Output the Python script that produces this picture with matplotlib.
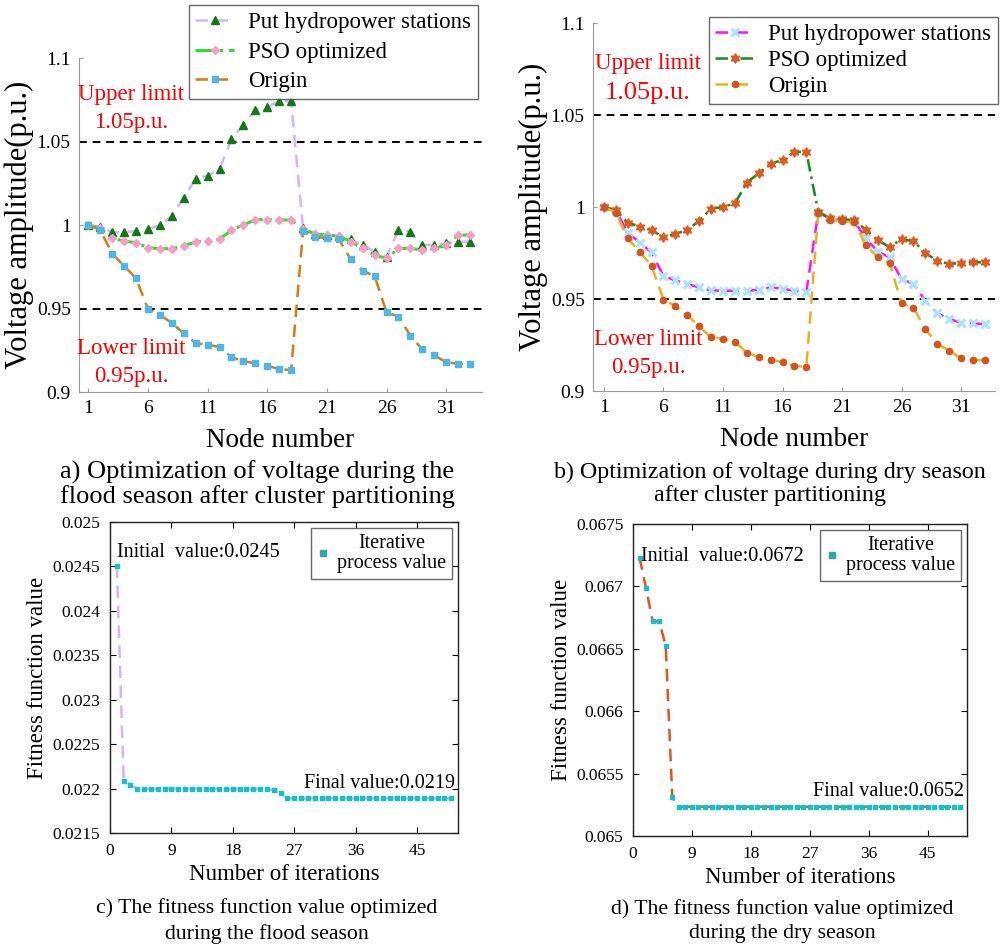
import numpy as np
import matplotlib
matplotlib.use("Agg")
from matplotlib import pyplot as plt
from matplotlib.lines import Line2D

plt.rcParams['font.family'] = ['Liberation Serif', 'DejaVu Serif']

# ---- data ----
nodes = np.arange(1, 34)

# IEEE 33 bus base case (Origin)
v_origin = [1.0000, 0.9970, 0.9829, 0.9755, 0.9681, 0.9497, 0.9462, 0.9413, 0.9351, 0.9292,
            0.9284, 0.9269, 0.9208, 0.9185, 0.9171, 0.9157, 0.9137, 0.9131, 0.9965, 0.9929,
            0.9922, 0.9916, 0.9794, 0.9727, 0.9694, 0.9477, 0.9452, 0.9337, 0.9255, 0.9220,
            0.9178, 0.9169, 0.9166]

# flood season
flood_hydro = [1.000, 0.999, 0.9956, 0.9956, 0.9964, 0.9974, 1.000, 1.0054, 1.0164, 1.0276,
               1.0296, 1.0334, 1.0514, 1.060, 1.0688, 1.0706, 1.0742, 1.074, 0.998, 0.9946,
               0.994, 0.9934, 0.9914, 0.988, 0.984, 0.981, 0.997, 0.996, 0.988, 0.988,
               0.989, 0.990, 0.990]
flood_pso = [1.000, 0.998, 0.992, 0.9904, 0.9894, 0.9864, 0.9858, 0.9858, 0.9876, 0.9898,
             0.9906, 0.9914, 0.997, 1.000, 1.0032, 1.0032, 1.0032, 1.0028, 0.9976, 0.9946,
             0.994, 0.9934, 0.990, 0.986, 0.982, 0.980, 0.986, 0.986, 0.985, 0.986,
             0.988, 0.994, 0.994]

# dry season
dry_hydro = [1.000, 0.998, 0.9861, 0.9807, 0.9753, 0.9625, 0.9601, 0.9581, 0.9563, 0.9547,
             0.9545, 0.9545, 0.9545, 0.955, 0.9563, 0.9556, 0.9545, 0.9538, 0.9968, 0.9937,
             0.9933, 0.9926, 0.9829, 0.9758, 0.9726, 0.9607, 0.9583, 0.949, 0.9422, 0.9392,
             0.937, 0.9368, 0.9363]
dry_pso = [1.000, 0.9982, 0.9915, 0.9894, 0.9874, 0.9836, 0.9854, 0.9874, 0.9926, 0.9991,
           1.000, 1.002, 1.0132, 1.0184, 1.0235, 1.0256, 1.030, 1.0298, 0.9975, 0.9939,
           0.9933, 0.9928, 0.9877, 0.9819, 0.9782, 0.9825, 0.9814, 0.9751, 0.9706, 0.9691,
           0.9695, 0.970, 0.9699]

v_ticks = [0.9, 0.95, 1.0, 1.05, 1.1]
v_ticklabels = ['0.9', '0.95', '1', '1.05', '1.1']
node_ticks = [1, 6, 11, 16, 21, 26, 31]
series_names = ['Put hydropower stations', 'PSO optimized', 'Origin']

iters = np.arange(1, 51)
fit_flood = [0.02451, 0.02209, 0.02204, 0.021997, 0.021997, 0.021997, 0.021997, 0.021997, 0.021997, 0.021997,
             0.021997, 0.021997, 0.021997, 0.021997, 0.021997, 0.021997, 0.021997, 0.021997, 0.021997, 0.021997,
             0.021997, 0.021997, 0.021997, 0.02198, 0.02195, 0.02189, 0.02189, 0.02189, 0.02189, 0.02189,
             0.02189, 0.02189, 0.02189, 0.02189, 0.02189, 0.02189, 0.02189, 0.02189, 0.02189, 0.02189,
             0.02189, 0.02189, 0.02189, 0.02189, 0.02189, 0.02189, 0.02189, 0.02189, 0.02189, 0.02189]
fit_dry = [0.067231, 0.066984, 0.06672, 0.06672, 0.066524, 0.065309, 0.065234, 0.065234, 0.065234, 0.065234,
           0.065234, 0.065234, 0.065234, 0.065234, 0.065234, 0.065234, 0.065234, 0.065234, 0.065234, 0.065234,
           0.065234, 0.065234, 0.065234, 0.065234, 0.065234, 0.065234, 0.065234, 0.065234, 0.065234, 0.065234,
           0.065234, 0.065234, 0.065234, 0.065234, 0.065234, 0.065234, 0.065234, 0.065234, 0.065234, 0.065234,
           0.065234, 0.065234, 0.065234, 0.065234, 0.065234, 0.065234, 0.065234, 0.065234, 0.065234, 0.065234]

flood_yticks = [0.0215, 0.022, 0.0225, 0.023, 0.0235, 0.024, 0.0245, 0.025]
flood_ylabels = ['0.0215', '0.022', '0.0225', '0.023', '0.0235', '0.024', '0.0245', '0.025']
dry_yticks = [0.065, 0.0655, 0.066, 0.0665, 0.067, 0.0675]
dry_ylabels = ['0.065', '0.0655', '0.066', '0.0665', '0.067', '0.0675']
iter_ticks = [0, 9, 18, 27, 36, 45]

W, H = 1001, 949
fig = plt.figure(figsize=(W / 100, H / 100), dpi=100)


def box(x0, y0, x1, y1):
    # pixel box -> figure fraction rect
    return [x0 / W, 1 - y1 / H, (x1 - x0) / W, (y1 - y0) / H]


def voltage_axes(ax):
    for s in ['top', 'right']:
        ax.spines[s].set_visible(False)
    for s in ['left', 'bottom']:
        ax.spines[s].set_color('#999999')
        ax.spines[s].set_linewidth(0.8)
    ax.set_ylim(0.9, 1.1)
    ax.set_yticks(v_ticks)
    ax.set_yticklabels(v_ticklabels)
    ax.set_xticks(node_ticks)
    ax.tick_params(direction='in', length=3, labelsize=14, color='#999999', pad=6)
    ax.axhline(1.05, color='black', ls=(0, (4, 3)), lw=1.4)
    ax.axhline(0.95, color='black', ls=(0, (4, 3)), lw=1.4)
    ax.set_xlabel('Node number', fontsize=19.5, labelpad=8)
    ax.set_ylabel('Voltage amplitude(p.u.)', fontsize=22, labelpad=2)


def voltage_legend(handles, anchor, spacing):
    fig.legend(handles, series_names, loc='upper right', bbox_to_anchor=anchor,
               fontsize=16.5, frameon=True, fancybox=False, edgecolor='#444444',
               handlelength=1.7, borderpad=0.3, labelspacing=spacing, handletextpad=0.6,
               borderaxespad=0)


# ---- a) flood season ----
ax1 = fig.add_axes(box(79, 58, 482, 392))
ax1.set_xlim(0.22, 34)
voltage_axes(ax1)
l1, = ax1.plot(nodes, flood_hydro, ls=(0, (5, 3)), color='#d6b2ff', lw=1.8,
               marker='^', ms=6, mfc='#0f7a0f', mec='#0f7a0f')
l2, = ax1.plot(nodes, flood_pso, ls=(0, (6, 2, 1, 2)), color='#22e622', lw=2.2,
               marker='D', ms=4.5, mfc='#ff99c8', mec='#ff99c8')
l3, = ax1.plot(nodes, v_origin, ls=(0, (5, 3)), color='#e0780c', lw=1.8,
               marker='s', ms=4, mfc='#4cb8ea', mec='#4cb8ea')
voltage_legend([l1, l2, l3], (478 / W, 1 - 5 / H), 0.38)
ax1.text(4.6, 1.0698, 'Upper limit\n1.05p.u.', color='red', fontsize=16.5, ha='center',
         va='center', linespacing=1.4)
ax1.text(4.6, 0.9177, 'Lower limit\n0.95p.u.', color='red', fontsize=16.5, ha='center',
         va='center', linespacing=1.4)

# ---- b) dry season ----
ax2 = fig.add_axes(box(593, 23, 995, 391))
ax2.set_xlim(0.08, 33.85)
voltage_axes(ax2)
m1, = ax2.plot(nodes, dry_hydro, ls=(0, (5, 3)), color='#ff10ff', lw=1.8,
               marker='x', ms=6, mew=2.2, mec='#a8e4ff')
m2, = ax2.plot(nodes, dry_pso, ls=(0, (5, 2, 1, 2)), color='#158a15', lw=1.8,
               marker=(6, 1, 0), ms=7, mfc='#e05a1c', mec='#e05a1c')
m3, = ax2.plot(nodes, v_origin, ls=(0, (5, 3)), color='#edb120', lw=1.8,
               marker='o', ms=4.5, mfc='#d6531a', mec='#d6531a')
voltage_legend([m1, m2, m3], (998 / W, 1 - 17 / H), 0.22)
ax2.text(4.7, 1.0781, 'Upper limit', color='red', fontsize=16.5, ha='center', va='center')
ax2.text(4.7, 1.0619, '1.05p.u.', color='red', fontsize=19, ha='center', va='center')
ax2.text(4.7, 0.9279, 'Lower limit', color='red', fontsize=16.5, ha='center', va='center')
ax2.text(4.7, 0.9127, '0.95p.u.', color='red', fontsize=16.5, ha='center', va='center')


def fitness_axes(ax):
    for s in ax.spines.values():
        s.set_color('#222222')
        s.set_linewidth(1.0)
    ax.set_xlim(0, 51)
    ax.set_xticks(iter_ticks)
    ax.tick_params(direction='in', length=4, labelsize=12.5, top=True, right=True, pad=7)
    ax.set_xlabel('Number of iterations', fontsize=16.5, labelpad=4)
    ax.set_ylabel('Fitness function value', fontsize=16.5, labelpad=3)


def fitness_legend(ax):
    h = Line2D([], [], ls='none', marker='s', ms=5, color='#2eaaa6')
    leg = ax.legend([h], ['Iterative\nprocess value'], loc='upper right', fontsize=14.5,
                    frameon=True, fancybox=False, edgecolor='#444444', handlelength=0.6,
                    borderpad=0.3, handletextpad=0.4, borderaxespad=0.3)
    for t in leg.get_texts():
        t.set_multialignment('center')
        t.set_linespacing(1.05)


# ---- c) fitness flood ----
ax3 = fig.add_axes(box(110, 522, 458, 833))
fitness_axes(ax3)
ax3.set_ylim(0.0215, 0.025)
ax3.set_yticks(flood_yticks)
ax3.set_yticklabels(flood_ylabels)
ax3.plot(iters, fit_flood, ls=(0, (5, 3)), color='#d6b2ff', lw=1.8)
ax3.plot(iters, fit_flood, ls='none', marker='s', ms=3.5, color='#12c2c8')
ax3.text(1, 0.02466, 'Initial  value:0.0245', fontsize=14.5, ha='left', va='center')
ax3.text(50.5, 0.02195, 'Final value:0.0219', fontsize=14.5, ha='right', va='bottom')
fitness_legend(ax3)

# ---- d) fitness dry ----
ax4 = fig.add_axes(box(633, 524, 967, 836))
fitness_axes(ax4)
ax4.set_ylim(0.065, 0.0675)
ax4.set_yticks(dry_yticks)
ax4.set_yticklabels(dry_ylabels)
ax4.plot(iters, fit_dry, ls=(0, (5, 3)), color='#e0561c', lw=1.8)
ax4.plot(iters, fit_dry, ls='none', marker='s', ms=3.5, color='#12c2c8')
ax4.text(1.2, 0.06724, 'Initial  value:0.0672', fontsize=14.5, ha='left', va='center')
ax4.text(50.5, 0.06528, 'Final value:0.0652', fontsize=14.5, ha='right', va='bottom')
fitness_legend(ax4)

# ---- captions ----
cap_bot = dict(fontsize=15.7, ha='center', va='center', linespacing=1.35)
fig.text(257 / W, 1 - 484 / H, 'a) Optimization of voltage during the\nflood season after cluster partitioning',
         fontsize=19, ha='center', va='center', linespacing=1.06)
fig.text(770 / W, 1 - 484 / H, 'b) Optimization of voltage during dry season\nafter cluster partitioning',
         fontsize=17.3, ha='center', va='center', linespacing=1.14)
fig.text(267 / W, 1 - 921 / H, 'c) The fitness function value optimized\nduring the flood season', **cap_bot)
fig.text(782 / W, 1 - 921 / H, 'd) The fitness function value optimized\nduring the dry season', **cap_bot)

fig.savefig('out.png', dpi=100)
